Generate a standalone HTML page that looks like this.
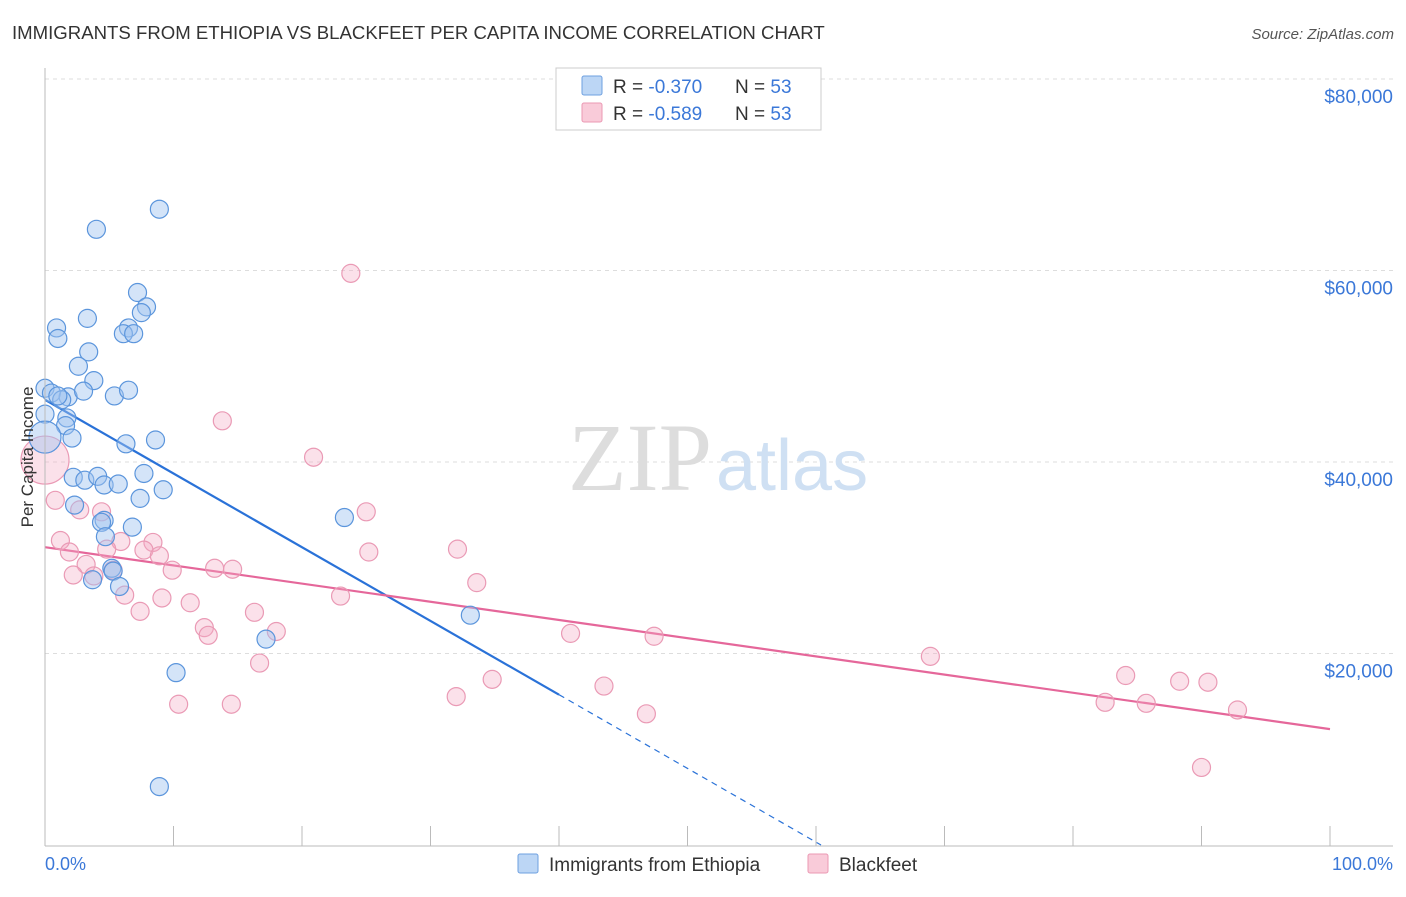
<!DOCTYPE html>
<html><head><meta charset="utf-8"><style>
body{margin:0;background:#fff;font-family:"Liberation Sans",sans-serif;}
</style></head><body>
<svg width="1406" height="892" viewBox="0 0 1406 892" xmlns="http://www.w3.org/2000/svg">
<text x="12" y="39" font-size="18.6" fill="#333">IMMIGRANTS FROM ETHIOPIA VS BLACKFEET PER CAPITA INCOME CORRELATION CHART</text>
<text x="1394" y="39" font-size="15" fill="#555" font-style="italic" text-anchor="end">Source: ZipAtlas.com</text>
<g id="grid"></g>
<text x="712" y="490" font-size="96" font-family="Liberation Serif" fill="#ddd" text-anchor="end">ZIP</text>
<text x="716" y="490" font-size="72" fill="#cfe0f3">atlas</text>
<g id="lines"></g>
<g id="pts"></g>
<line x1="45" y1="68" x2="45" y2="846" stroke="#bbb"/>
<line x1="45" y1="846" x2="1393" y2="846" stroke="#bbb"/>
<text x="33" y="457" font-size="17" fill="#333" text-anchor="middle" transform="rotate(-90 33 457)">Per Capita Income</text>
<text x="45" y="870" font-size="18" fill="#3b78d8">0.0%</text>
<text x="1393" y="870" font-size="18" fill="#3b78d8" text-anchor="end">100.0%</text>
<g>
<rect x="556" y="68" width="265" height="62" fill="#fff" stroke="#ccc"/>
<rect x="582" y="76" width="20" height="19" fill="#bcd6f5" stroke="#6ea0e0" rx="2"/>
<rect x="582" y="103" width="20" height="19" fill="#f9cbd9" stroke="#eb98b3" rx="2"/>
<text x="613" y="93" font-size="19" fill="#333">R = <tspan fill="#3b78d8">-0.370</tspan></text>
<text x="735" y="93" font-size="19" fill="#333">N = <tspan fill="#3b78d8">53</tspan></text>
<text x="613" y="120" font-size="19" fill="#333">R = <tspan fill="#3b78d8">-0.589</tspan></text>
<text x="735" y="120" font-size="19" fill="#333">N = <tspan fill="#3b78d8">53</tspan></text>
</g>
<g>
<rect x="518" y="854" width="20" height="19" fill="#bcd6f5" stroke="#6ea0e0" rx="2"/>
<text x="549" y="871" font-size="19" fill="#333">Immigrants from Ethiopia</text>
<rect x="808" y="854" width="20" height="19" fill="#f9cbd9" stroke="#eb98b3" rx="2"/>
<text x="839" y="871" font-size="19" fill="#333">Blackfeet</text>
</g>
</svg>
<script>
const yTicks=[20000,40000,60000,80000];
const yTickLabels=["$20,000","$40,000","$60,000","$80,000"];
const xTicks=[0,10,20,30,40,50,60,70,80,90,100];
const blueX=[8.9,4.0,7.2,7.9,7.5,3.3,0.9,6.5,6.1,6.9,1.0,3.4,2.6,3.8,0,0.5,1.8,1.3,1.0,5.4,6.5,3.0,0,1.7,1.6,2.1,6.3,8.6,2.2,3.1,4.1,7.7,4.6,5.7,7.4,9.2,2.3,4.6,4.4,6.8,4.7,5.2,5.3,5.8,3.7,23.3,33.1,17.2,10.2,8.9,0];
const blueY=[66400,64300,57700,56200,55600,55000,54000,54000,53400,53400,52900,51500,50000,48500,47700,47200,46800,46500,46900,46900,47500,47400,45000,44600,43800,42500,41900,42300,38400,38100,38500,38800,37600,37700,36200,37100,35500,33900,33700,33200,32200,28900,28600,27000,27700,34200,24000,21500,18000,6100,42600];
const pinkX=[23.8,13.8,20.9,0.8,25.0,2.7,4.4,1.2,1.9,5.9,8.4,4.8,7.7,8.9,25.2,32.1,3.2,2.2,5.3,9.9,3.8,13.2,14.6,33.6,6.2,9.1,23.0,11.3,7.4,16.3,12.4,12.7,18.0,40.9,47.4,16.7,68.9,84.1,88.3,90.5,34.8,43.5,32.0,82.5,85.7,10.4,14.5,46.8,92.8,90.0,0];
const pinkY=[59700,44300,40500,36000,34800,35000,34800,31800,30600,31700,31600,30900,30800,30200,30600,30900,29300,28200,28700,28700,28100,28900,28800,27400,26100,25800,26000,25300,24400,24300,22700,21900,22300,22100,21800,19000,19700,17700,17100,17000,17300,16600,15500,14900,14800,14700,14700,13700,14100,8100,40200];
const blueTrend=[46500,15700];
const pinkTrend=[31100,12100];
const NS="http://www.w3.org/2000/svg";
const X=v=>45+v*12.85, Y=v=>845-v*191.5/20000;
function mk(t,a,p){const e=document.createElementNS(NS,t);for(const k in a)e.setAttribute(k,a[k]);p.appendChild(e);return e;}
const grid=document.getElementById('grid');
yTicks.forEach((t,i)=>{
 const l=mk('line',{x1:45,x2:1393,y1:Y(t),y2:Y(t),stroke:'#ddd','stroke-dasharray':'4 4'},grid);
 
 
 const tx=mk('text',{x:1393,y:Y(t)+24,'font-size':19,fill:'#3b78d8','text-anchor':'end'},grid);
 tx.textContent=yTickLabels[i];
 
 
});
xTicks.forEach(t=>{
 const l=mk('line',{x1:X(t),x2:X(t),y1:826,y2:846,stroke:'#bbb'},grid);
 
 
});
const pts=document.getElementById('pts');
pinkX.forEach((x,i)=>{
 const big=i===pinkX.length-1;
 const c=mk('circle',{cx:X(x),cy:Y(pinkY[i]),r:big?24:9,fill:'rgba(244,170,195,0.35)',stroke:'#ea9ab5','stroke-width':1.2},pts);
 
 
});
blueX.forEach((x,i)=>{
 const big=i===blueX.length-1;
 const c=mk('circle',{cx:X(x),cy:Y(blueY[i]),r:big?16:9,fill:'rgba(160,196,240,0.45)',stroke:'#5b95dc','stroke-width':1.2},pts);
 
 
});
const lines=document.getElementById('lines');
const slope=(blueTrend[1]-blueTrend[0])/40;
const b1=mk('line',{x1:X(0),y1:Y(blueTrend[0]),x2:X(40),y2:Y(blueTrend[1]),stroke:'#2a72d8','stroke-width':2.2},lines);


const xz=-blueTrend[0]/slope;
const b2=mk('line',{x1:X(40),y1:Y(blueTrend[1]),x2:X(xz),y2:Y(0),stroke:'#2a72d8','stroke-width':1.2,'stroke-dasharray':'6 5'},lines);


const p1=mk('line',{x1:X(0),y1:Y(pinkTrend[0]),x2:X(100),y2:Y(pinkTrend[1]),stroke:'#e5679a','stroke-width':2.2},lines);


</script>
</body></html>
